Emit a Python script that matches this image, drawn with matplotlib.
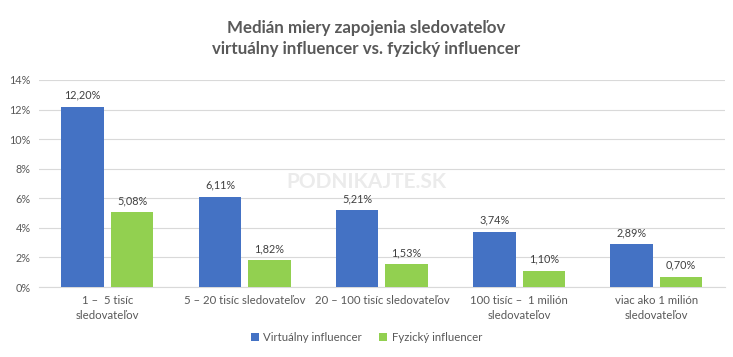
import numpy as np
import matplotlib.pyplot as plt

categories = ["1 –  5 tisíc\nsledovateľov", "5 – 20 tisíc sledovateľov", "20 – 100 tisíc sledovateľov",
              "100 tisíc –  1 milión\nsledovateľov", "viac ako 1 milión\nsledovateľov"]
virtual = [12.20, 6.11, 5.21, 3.74, 2.89]
physical = [5.08, 1.82, 1.53, 1.10, 0.70]
yticks = [0, 2, 4, 6, 8, 10, 12, 14]

plt.rcParams['font.family'] = ['Lato', 'DejaVu Sans']
gray = "#595959"

fig = plt.figure(figsize=(7.33, 3.57), dpi=100)
ax = fig.add_axes([0.053, 0.196, 0.936, 0.58])

x = np.arange(len(categories))
w = 0.31
b1 = ax.bar(x - 0.18, virtual, w, color="#4472C4", label="Virtuálny influencer", zorder=3)
b2 = ax.bar(x + 0.18, physical, w, color="#92D050", label="Fyzický influencer", zorder=3)

for bars, vals in ((b1, virtual), (b2, physical)):
    for r, v in zip(bars, vals):
        ax.text(r.get_x() + r.get_width() / 2, v + 0.4, f"{v:.2f}%".replace(".", ","),
                ha="center", va="bottom", fontsize=7.8, color="#404040")

ax.set_xlim(-0.5, len(categories) - 0.5)
ax.set_ylim(0, 14)
ax.set_yticks(yticks)
ax.set_yticklabels([f"{t}%" for t in yticks], fontsize=7.8, color=gray)
ax.set_xticks(x)
ax.set_xticklabels(categories, fontsize=8.2, color=gray, linespacing=1.45)
ax.tick_params(length=0, pad=6)
ax.grid(axis="y", color="#D9D9D9", linewidth=0.8, zorder=0)
for s in ("top", "right", "left"):
    ax.spines[s].set_visible(False)
ax.spines["bottom"].set_color("#D9D9D9")

fig.text(0.5, 0.945, "Medián miery zapojenia sledovateľov\nvirtuálny influencer vs. fyzický influencer",
         ha="center", va="top", fontsize=12.2, fontweight="bold", color=gray, linespacing=1.4)

# faint watermark
fig.text(0.5, 0.49, "PODNIKAJTE.SK", ha="center", va="center", fontsize=15,
         fontweight="bold", color="#EBEBEB", zorder=1)

fig.legend(handles=[b1, b2], loc="lower center", bbox_to_anchor=(0.5, 0.01), ncol=2,
           frameon=False, fontsize=8.2, labelcolor=gray, handlelength=0.7, handleheight=0.7,
           columnspacing=1.5, handletextpad=0.4)

fig.savefig("out.png", dpi=100)
